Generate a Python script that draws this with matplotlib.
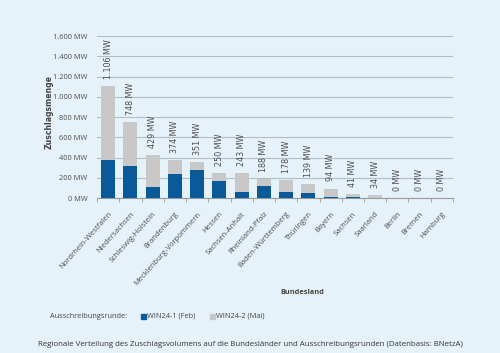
import matplotlib.pyplot as plt
import numpy as np
from matplotlib.patches import Rectangle

# Daten
laender = ['Nordrhein-Westfalen', 'Niedersachsen', 'Schleswig-Holstein', 'Brandenburg',
           'Mecklenburg-Vorpommern', 'Hessen', 'Sachsen-Anhalt', 'Rheinland-Pfalz',
           'Baden-Württemberg', 'Thüringen', 'Bayern', 'Sachsen', 'Saarland',
           'Berlin', 'Bremen', 'Hamburg']
win24_1 = [377, 318, 108, 240, 272, 164, 55, 114, 55, 49, 13, 10, 0, 0, 0, 0]
gesamt = [1106, 748, 429, 374, 351, 250, 243, 188, 178, 139, 94, 41, 34, 0, 0, 0]
win24_2 = [g - w for g, w in zip(gesamt, win24_1)]
yticks = [0, 200, 400, 600, 800, 1000, 1200, 1400, 1600]

bg = '#e6f2fa'
dunkel = '#0a5a99'
hell = '#c8c8c8'
textgrau = '#4d4d4d'

fig = plt.figure(figsize=(5, 3.53), dpi=100)
fig.patch.set_facecolor(bg)
ax = fig.add_axes([0.194, 0.439, 0.712, 0.459])
ax.set_facecolor(bg)

x = np.arange(len(laender))
ax.bar(x, win24_1, width=0.63, color=dunkel, zorder=3)
ax.bar(x, win24_2, width=0.63, bottom=win24_1, color=hell, zorder=3)

for xi, g in zip(x, gesamt):
    ax.text(xi, g + 70, f'{g:,} MW'.replace(',', '.'), rotation=90, ha='center', va='bottom',
            fontsize=5.8, color=textgrau, family='DejaVu Sans')

ax.set_xlim(-0.5, len(laender) - 0.5)
ax.set_ylim(0, 1600)
ax.set_yticks(yticks)
ax.set_yticklabels([f'{v:,} MW'.replace(',', '.') for v in yticks], fontsize=5.3,
                   color=textgrau, family='Open Sans')
ax.yaxis.grid(True, color='#b4bcc4', linewidth=0.8, zorder=0)
ax.tick_params(axis='y', length=0, pad=7)
ax.set_xticks(x)
ax.set_xticklabels(laender, rotation=48, ha='right', rotation_mode='anchor',
                   fontsize=5.5, color=textgrau, family='Open Sans')
ax.tick_params(axis='x', length=0, pad=9)
ax.set_xticks(np.arange(-0.5, len(laender)), minor=True)
ax.tick_params(axis='x', which='minor', length=3, color='#999999')
for s in ['top', 'right', 'left']:
    ax.spines[s].set_visible(False)
ax.spines['bottom'].set_color('#999999')

fig.text(0.098, 0.683, 'Zuschlagsmenge', rotation=90, ha='center', va='center',
         fontsize=5.6, fontweight='bold', color='#444444', family='DejaVu Sans')
fig.text(0.604, 1 - 292 / 353, 'Bundesland', ha='center', va='center',
         fontsize=5.3, fontweight='bold', color='#444444', family='Open Sans')

# Legende
ly = 1 - 316 / 353
fig.text(0.10, ly, 'Ausschreibungsrunde:', ha='left', va='center', fontsize=5.3,
         color='#444444', family='Open Sans')
fig.patches.append(Rectangle((0.282, ly - 0.008), 0.009, 0.014, transform=fig.transFigure,
                             color=dunkel, figure=fig))
fig.text(0.294, ly, 'WIN24-1 (Feb)', ha='left', va='center', fontsize=5.3,
         color='#444444', family='Open Sans')
fig.patches.append(Rectangle((0.420, ly - 0.008), 0.009, 0.014, transform=fig.transFigure,
                             color=hell, figure=fig))
fig.text(0.432, ly, 'WIN24-2 (Mai)', ha='left', va='center', fontsize=5.3,
         color='#444444', family='Open Sans')

fig.text(0.5, 1 - 344 / 353,
         'Regionale Verteilung des Zuschlagsvolumens auf die Bundesländer und Ausschreibungsrunden (Datenbasis: BNetzA)',
         ha='center', va='center', fontsize=5.65, color='#333333', family='Open Sans')

fig.savefig('out.png', dpi=100, facecolor=bg)
